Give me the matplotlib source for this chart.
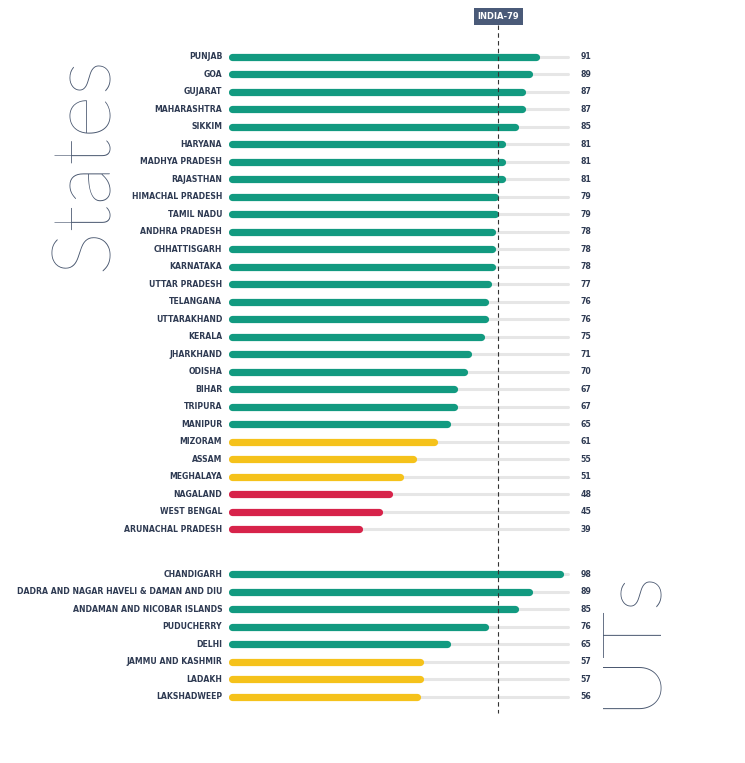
import matplotlib.pyplot as plt

states = ['PUNJAB', 'GOA', 'GUJARAT', 'MAHARASHTRA', 'SIKKIM', 'HARYANA', 'MADHYA PRADESH',
          'RAJASTHAN', 'HIMACHAL PRADESH', 'TAMIL NADU', 'ANDHRA PRADESH', 'CHHATTISGARH',
          'KARNATAKA', 'UTTAR PRADESH', 'TELANGANA', 'UTTARAKHAND', 'KERALA', 'JHARKHAND',
          'ODISHA', 'BIHAR', 'TRIPURA', 'MANIPUR', 'MIZORAM', 'ASSAM', 'MEGHALAYA',
          'NAGALAND', 'WEST BENGAL', 'ARUNACHAL PRADESH']
state_vals = [91, 89, 87, 87, 85, 81, 81, 81, 79, 79, 78, 78, 78, 77, 76, 76, 75, 71,
              70, 67, 67, 65, 61, 55, 51, 48, 45, 39]
uts = ['CHANDIGARH', 'DADRA AND NAGAR HAVELI & DAMAN AND DIU', 'ANDAMAN AND NICOBAR ISLANDS',
       'PUDUCHERRY', 'DELHI', 'JAMMU AND KASHMIR', 'LADAKH', 'LAKSHADWEEP']
ut_vals = [98, 89, 85, 76, 65, 57, 57, 56]
india = 79

GREEN, YELLOW, RED = '#129a80', '#f5c21b', '#d7234a'
NAVY = '#2e3a52'
CAP = 1.0  # round cap radius in value units


def colour(v):
    if v >= 65:
        return GREEN
    if v >= 50:
        return YELLOW
    return RED


names = states + uts
vals = state_vals + ut_vals
ys = list(range(len(states))) + [len(states) - 1 + 2.56 + j for j in range(len(uts))]

fig = plt.figure(figsize=(7.45, 7.63), dpi=100)
ax = fig.add_axes([229 / 745, 43 / 763, 341 / 745, 680 / 763])
ax.set_xlim(0, 100)
ax.set_ylim(37.9, -0.97)
ax.axis('off')

for name, v, y in zip(names, vals, ys):
    ax.plot([CAP * 0.5, 100 - CAP * 0.5], [y, y], color='#e6e6e6', lw=2.2,
            solid_capstyle='round', zorder=1)
    ax.plot([CAP, v - CAP], [y, y], color=colour(v), lw=5.2, solid_capstyle='round', zorder=2)
    ax.text(-2, y, name, ha='right', va='center', fontsize=5.6, fontweight='bold',
            color=NAVY, clip_on=False)
    ax.text(103, y, str(v), ha='left', va='center', fontsize=5.6, fontweight='bold',
            color=NAVY, clip_on=False)

ax.plot([india, india], [-1.8, 37.5], color='#333333', lw=0.8, ls=(0, (4, 3)),
        zorder=3, clip_on=False)
ax.text(india, -2.3, 'INDIA-79', ha='center', va='center', fontsize=6, fontweight='bold',
        color='white', clip_on=False,
        bbox=dict(boxstyle='square,pad=0.45', fc='#4a5a78', ec='none'))

fig.text(85 / 745, 1 - 163 / 763, 'States', rotation=90, ha='center', va='center',
         fontsize=60, family='Lato', fontweight='light', color='#4a5870')
fig.text(630 / 745, 1 - 638 / 763, 'UTs', rotation=90, ha='center', va='center',
         fontsize=60, family='Lato', fontweight='light', color='#4a5870')

fig.savefig('out.png', dpi=100, facecolor='white')
